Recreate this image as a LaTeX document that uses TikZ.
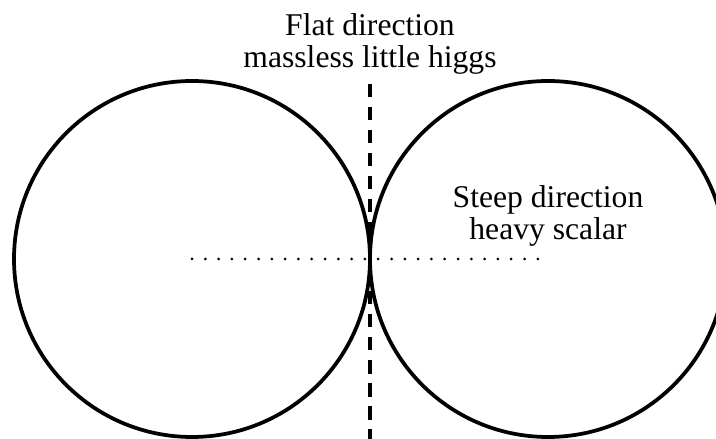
\documentclass[tikz,border=0pt]{standalone}
\usepackage{fontspec}
\setmainfont{Liberation Serif}
\begin{document}
\begin{tikzpicture}[
    rim/.style={draw, circle, line width=0.075cm, minimum size=7.12cm, inner sep=0pt},
    label/.style={align=center, font=\fontsize{18}{18}\selectfont},
    axis/.style={line width=0.075cm, dash pattern=on 0.27cm off 0.19cm},
    cut/.style={line width=0.06cm, line cap=round, dash pattern=on 0pt off 0.266cm}
  ]
    \useasboundingbox (0,0) rectangle (14.32,8.78);
    % The two potential wells
    \node[rim] (lwell) at (3.84,3.60) {};
    \node[rim] (rwell) at (10.96,3.60) {};
    \coordinate (touch) at (7.40,3.60);

    % Flat direction
    \coordinate (atop) at (7.40,7.10);
    \coordinate (abot) at (7.40,0);
    \draw[axis] (atop) -- (abot);
    \node[label] (flat) at (7.40,7.90) {Flat direction\\massless little higgs};

    % Steep direction
    \draw[cut] (lwell.center) -- ([xshift=-0.2cm]rwell.center);
    \node[label] (steep) at (10.96,4.46) {Steep direction\\heavy scalar};
\end{tikzpicture}
\end{document}
